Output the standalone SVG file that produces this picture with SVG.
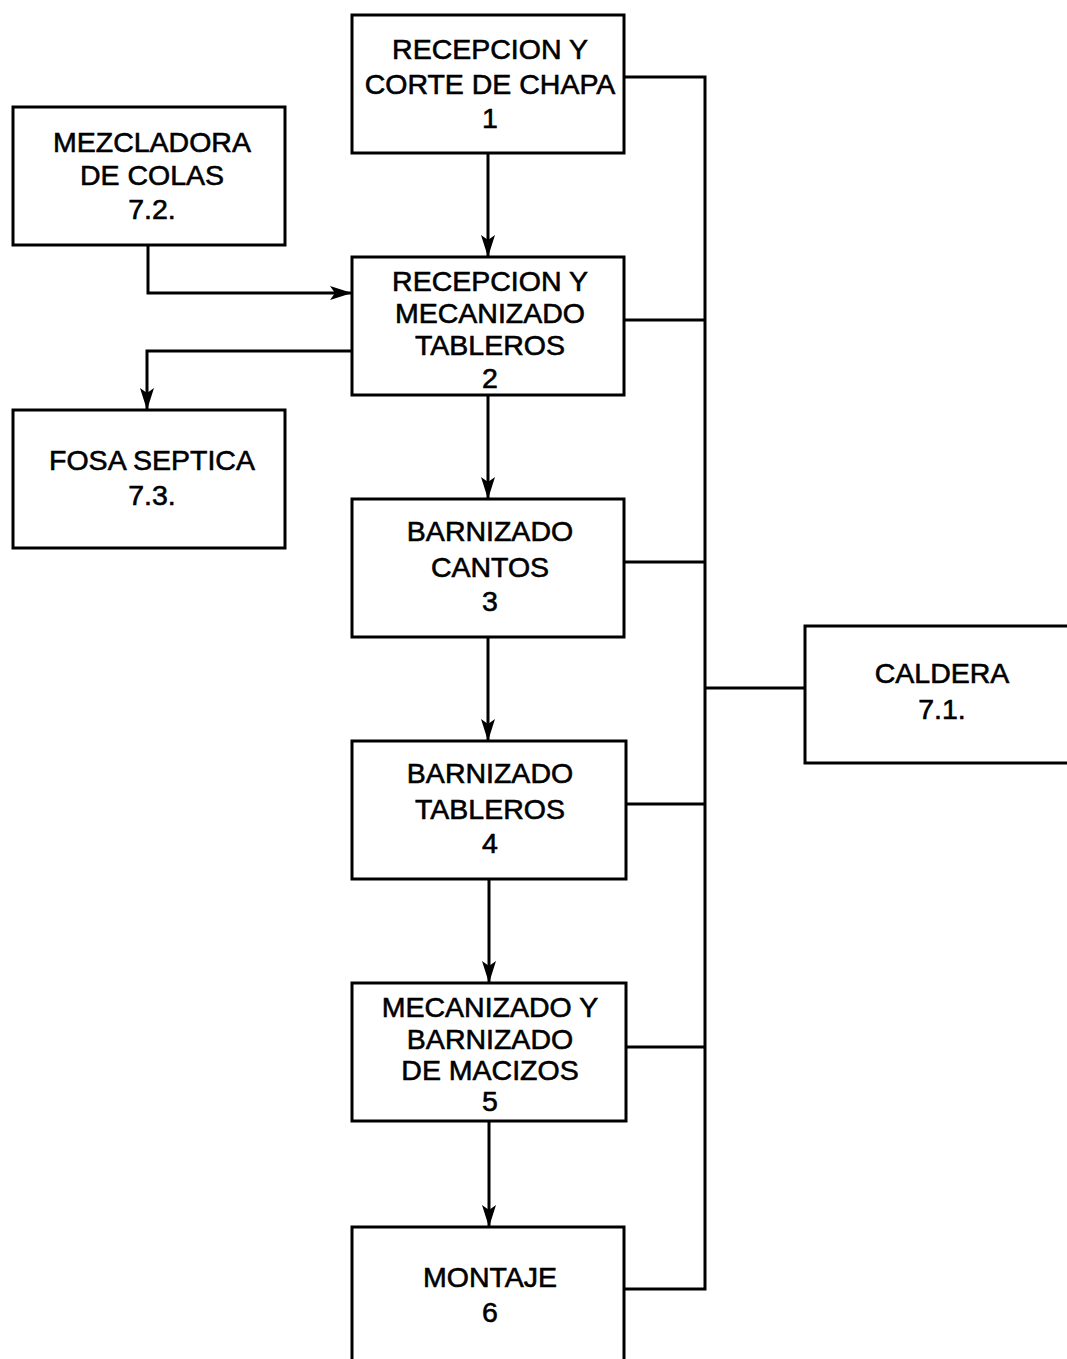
<svg xmlns="http://www.w3.org/2000/svg" width="1067" height="1359" viewBox="0 0 1067 1359">
<style>
.box{fill:#fff;stroke:#000;stroke-width:3}
.t{font-family:"Liberation Sans",Arial,sans-serif;font-size:28.5px;fill:#000;stroke:#000;stroke-width:0.6;text-anchor:middle}
.c{fill:none;stroke:#000;stroke-width:3}
</style>
<defs>
<marker id="ah" markerWidth="22" markerHeight="14" refX="21" refY="7" orient="auto" markerUnits="userSpaceOnUse">
<path d="M0,0 L22,7 L0,14 L5,7 Z" fill="#000"/>
</marker>
</defs>
<rect width="1067" height="1359" fill="#fff"/>
<g id="connectors">
<path class="c" d="M624,77 H705 V1289 H624"/>
<path class="c" d="M624,320 H705"/>
<path class="c" d="M624,562 H705"/>
<path class="c" d="M626,804 H705"/>
<path class="c" d="M626,1047 H705"/>
<path class="c" d="M705,688 H805"/>
<path class="c" d="M488,153 V256" marker-end="url(#ah)"/>
<path class="c" d="M488,395 V498" marker-end="url(#ah)"/>
<path class="c" d="M488,637 V740" marker-end="url(#ah)"/>
<path class="c" d="M489,879 V982" marker-end="url(#ah)"/>
<path class="c" d="M489,1121 V1226" marker-end="url(#ah)"/>
<path class="c" d="M148,245 V293 H351" marker-end="url(#ah)"/>
<path class="c" d="M352,351 H147 V409" marker-end="url(#ah)"/>
</g>
<g id="n1"><rect class="box" x="352" y="15" width="272" height="138"/>
<text class="t" x="490" y="59">RECEPCION Y</text><text class="t" x="490" y="94">CORTE DE CHAPA</text><text class="t" x="490" y="128">1</text></g>
<g id="n72"><rect class="box" x="13" y="107" width="272" height="138"/>
<text class="t" x="152" y="152">MEZCLADORA</text><text class="t" x="152" y="185">DE COLAS</text><text class="t" x="152" y="219">7.2.</text></g>
<g id="n2"><rect class="box" x="352" y="257" width="272" height="138"/>
<text class="t" x="490" y="291">RECEPCION Y</text><text class="t" x="490" y="323">MECANIZADO</text><text class="t" x="490" y="355">TABLEROS</text><text class="t" x="490" y="388">2</text></g>
<g id="n73"><rect class="box" x="13" y="410" width="272" height="138"/>
<text class="t" x="152" y="470">FOSA SEPTICA</text><text class="t" x="152" y="505">7.3.</text></g>
<g id="n3"><rect class="box" x="352" y="499" width="272" height="138"/>
<text class="t" x="490" y="541">BARNIZADO</text><text class="t" x="490" y="577">CANTOS</text><text class="t" x="490" y="611">3</text></g>
<g id="n71"><rect class="box" x="805" y="626" width="275" height="137"/>
<text class="t" x="942" y="683">CALDERA</text><text class="t" x="942" y="719">7.1.</text></g>
<g id="n4"><rect class="box" x="352" y="741" width="274" height="138"/>
<text class="t" x="490" y="783">BARNIZADO</text><text class="t" x="490" y="819">TABLEROS</text><text class="t" x="490" y="853">4</text></g>
<g id="n5"><rect class="box" x="352" y="983" width="274" height="138"/>
<text class="t" x="490" y="1017">MECANIZADO Y</text><text class="t" x="490" y="1049">BARNIZADO</text><text class="t" x="490" y="1080">DE MACIZOS</text><text class="t" x="490" y="1111">5</text></g>
<g id="n6"><rect class="box" x="352" y="1227" width="272" height="150"/>
<text class="t" x="490" y="1287">MONTAJE</text><text class="t" x="490" y="1322">6</text></g>
</svg>
